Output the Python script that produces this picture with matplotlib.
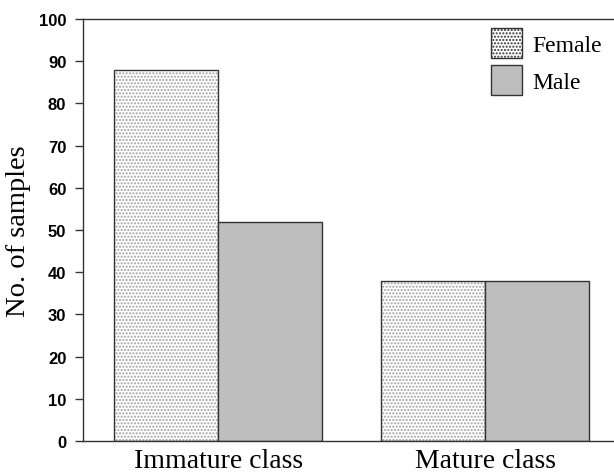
import matplotlib
matplotlib.use("Agg")
import matplotlib.pyplot as plt
import numpy as np
from matplotlib.patches import Patch

categories = ["Immature class", "Mature class"]
female = [88, 38]
male = [52, 38]
yticks = [0, 10, 20, 30, 40, 50, 60, 70, 80, 90, 100]

plt.rcParams['font.family'] = ['Liberation Serif', 'DejaVu Serif']
plt.rcParams['hatch.linewidth'] = 1.0

fig = plt.figure(figsize=(6.14, 4.77), dpi=100)
ax = fig.add_axes([83/614, 35/477, 1 - 83/614, (442-20)/477])

x = np.arange(len(categories))
w = 0.39
ax.bar(x - w/2, female, w, color='white', edgecolor='#a0a0a0', hatch='.....', linewidth=0)
ax.bar(x - w/2, female, w, color='none', edgecolor='#333333', linewidth=1.0)
ax.bar(x + w/2, male, w, color='#bebebe', edgecolor='#333333', linewidth=1.0)

ax.set_xlim(-0.506, 1.483)
ax.set_ylim(0, 100)
ax.set_yticks(yticks)
ax.set_yticklabels([str(t) for t in yticks], fontweight='bold', fontsize=12,
                   family=['Liberation Sans', 'DejaVu Sans'])
ax.set_xticks(x)
ax.set_xticklabels(categories, fontsize=20)
ax.tick_params(axis='x', length=0, pad=5)
ax.tick_params(axis='y', length=6, width=1.0, color='#333333', pad=6)
ax.set_ylabel("No. of samples", fontsize=20.5, labelpad=6)
for s in ['left', 'top', 'bottom']:
    ax.spines[s].set_color('#333333')
    ax.spines[s].set_linewidth(1.0)
ax.spines['right'].set_visible(False)

handles = [Patch(facecolor='white', edgecolor='#333333', hatch='.....', linewidth=1.0),
           Patch(facecolor='#bebebe', edgecolor='#333333', linewidth=1.0)]
ax.legend(handles, ['Female', 'Male'], frameon=False, fontsize=17,
          loc='upper right', bbox_to_anchor=(602/614, 1 - 29/477),
          bbox_transform=fig.transFigure, borderaxespad=0, borderpad=0,
          handlelength=1.31, handleheight=1.58, handletextpad=0.45, labelspacing=0.3)

fig.savefig("out.png", dpi=100)
